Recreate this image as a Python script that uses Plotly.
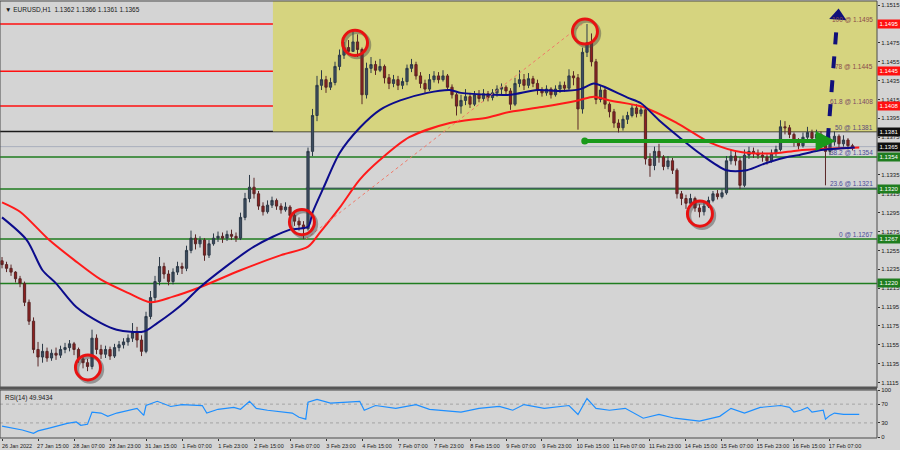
import plotly.graph_objects as go

# ---------------- data ----------------
title_text = "▼ EURUSD,H1  1.1362 1.1366 1.1361 1.1365"
rsi_text = "RSI(14) 49.9434"

# 2-hour candles, bar position in hours from 26 Jan 23:00
bar_hours = list(range(0, 380, 2))
first_open = 1.1244
close = [
    1.1240, 1.1236, 1.1232, 1.1225, 1.1220, 1.1200, 1.1180, 1.1150, 1.1142, 1.1148,
    1.1141, 1.1146, 1.1144, 1.1150, 1.1152, 1.1156, 1.1150, 1.1140, 1.1136, 1.1132,
    1.1162, 1.1150, 1.1145, 1.1150, 1.1143, 1.1152, 1.1155, 1.1158, 1.1162, 1.1168,
    1.1160, 1.1148, 1.1185, 1.1205, 1.1222, 1.1238, 1.1230, 1.1222, 1.1232, 1.1238,
    1.1236, 1.1255, 1.1268, 1.1262, 1.1266, 1.1250, 1.1262, 1.1268, 1.1270, 1.1268,
    1.1272, 1.1270, 1.1268, 1.1290, 1.1310, 1.1322, 1.1315, 1.1302, 1.1296, 1.1303,
    1.1308, 1.1302, 1.1298, 1.1301, 1.1292, 1.1286, 1.1282, 1.1278, 1.1360, 1.1398,
    1.1430, 1.1436, 1.1428, 1.1433, 1.1450, 1.1462, 1.1470, 1.1466, 1.1476, 1.1468,
    1.1420, 1.1448, 1.1452, 1.1446, 1.1450, 1.1438, 1.1432, 1.1436, 1.1430, 1.1434,
    1.1448, 1.1452, 1.1440, 1.1432, 1.1426, 1.1436, 1.1440, 1.1436, 1.1440, 1.1428,
    1.1420, 1.1408, 1.1414, 1.1418, 1.1410, 1.1420, 1.1416, 1.1421, 1.1417, 1.1422,
    1.1426, 1.1428, 1.1424, 1.1410, 1.1432, 1.1436, 1.1430, 1.1437, 1.1432, 1.1425,
    1.1422, 1.1426, 1.1420, 1.1426, 1.1430, 1.1427, 1.1440, 1.1438, 1.1405, 1.1465,
    1.1475, 1.1455, 1.1415, 1.1425, 1.1410, 1.1402, 1.1390, 1.1385, 1.1394, 1.1398,
    1.1406, 1.1400, 1.1404, 1.1352, 1.1345, 1.1360, 1.1354, 1.1344, 1.1350, 1.1340,
    1.1315, 1.1310, 1.1305, 1.1310, 1.1300, 1.1296, 1.1302, 1.1308, 1.1315, 1.1312,
    1.1316, 1.1350, 1.1355, 1.1350, 1.1324, 1.1356, 1.1360, 1.1358, 1.1356, 1.1354,
    1.1350, 1.1358, 1.1362, 1.1386, 1.1385, 1.1378, 1.1370, 1.1366, 1.1375, 1.1380,
    1.1374, 1.1378, 1.1372, 1.1360, 1.1370, 1.1376, 1.1368, 1.1372, 1.1366, 1.1365,
]
high = [
    1.1248, 1.1243, 1.1240, 1.1233, 1.1228, 1.1222, 1.1203, 1.1184, 1.1158, 1.1156,
    1.1152, 1.1150, 1.1152, 1.1154, 1.1157, 1.1160, 1.1158, 1.1152, 1.1144, 1.1140,
    1.1171, 1.1166, 1.1155, 1.1154, 1.1153, 1.1156, 1.1159, 1.1162, 1.1166, 1.1178,
    1.1174, 1.1165, 1.1190, 1.1212, 1.1228, 1.1248, 1.1242, 1.1234, 1.1236, 1.1243,
    1.1242, 1.1260, 1.1276, 1.1272, 1.1270, 1.1268, 1.1266, 1.1273, 1.1275, 1.1274,
    1.1276, 1.1277, 1.1274, 1.1295, 1.1316, 1.1335, 1.1332, 1.1318, 1.1306, 1.1308,
    1.1312, 1.1310, 1.1305, 1.1306, 1.1303, 1.1295, 1.1290, 1.1286, 1.1364, 1.1405,
    1.1440, 1.1446, 1.1440, 1.1438, 1.1455, 1.1468, 1.1476, 1.1478, 1.1487, 1.1484,
    1.1470, 1.1454, 1.1460, 1.1456, 1.1458, 1.1452, 1.1442, 1.1441, 1.1440, 1.1438,
    1.1452, 1.1458, 1.1455, 1.1444, 1.1436, 1.1442, 1.1445, 1.1444, 1.1446, 1.1442,
    1.1431, 1.1422, 1.1420, 1.1426, 1.1422, 1.1424, 1.1425, 1.1426, 1.1424, 1.1426,
    1.1430, 1.1432, 1.1430, 1.1427, 1.1438, 1.1446, 1.1442, 1.1443, 1.1440, 1.1436,
    1.1428, 1.1430, 1.1428, 1.1430, 1.1434, 1.1434, 1.1447, 1.1445, 1.1442, 1.1470,
    1.1495, 1.1485, 1.1458, 1.1430, 1.1428, 1.1412, 1.1405, 1.1394, 1.1398, 1.1402,
    1.1410, 1.1410, 1.1408, 1.1406, 1.1358, 1.1365, 1.1368, 1.1356, 1.1355, 1.1353,
    1.1342, 1.1318, 1.1314, 1.1315, 1.1312, 1.1304, 1.1306, 1.1312, 1.1318, 1.1319,
    1.1320, 1.1355, 1.1362, 1.1360, 1.1354, 1.1362, 1.1365, 1.1364, 1.1362, 1.1360,
    1.1357, 1.1362, 1.1366, 1.1393, 1.1392, 1.1388, 1.1380, 1.1374, 1.1380, 1.1386,
    1.1383, 1.1383, 1.1381, 1.1376, 1.1376, 1.1381, 1.1378, 1.1377, 1.1374, 1.1368,
]
low = [
    1.1236, 1.1232, 1.1228, 1.1221, 1.1216, 1.1196, 1.1176, 1.1146, 1.1132, 1.1136,
    1.1137, 1.1138, 1.1139, 1.1141, 1.1146, 1.1148, 1.1144, 1.1136, 1.1130, 1.1127,
    1.1129, 1.1145, 1.1140, 1.1141, 1.1139, 1.1141, 1.1148, 1.1151, 1.1154, 1.1158,
    1.1152, 1.1143, 1.1146, 1.1182, 1.1200, 1.1218, 1.1225, 1.1218, 1.1219, 1.1229,
    1.1230, 1.1233, 1.1252, 1.1256, 1.1258, 1.1244, 1.1247, 1.1260, 1.1264, 1.1263,
    1.1265, 1.1266, 1.1264, 1.1266, 1.1287, 1.1306, 1.1310, 1.1298, 1.1292, 1.1294,
    1.1300, 1.1298, 1.1294, 1.1296, 1.1288, 1.1281, 1.1276, 1.1267, 1.1276, 1.1355,
    1.1392, 1.1425, 1.1422, 1.1425, 1.1430, 1.1446, 1.1458, 1.1462, 1.1468, 1.1460,
    1.1410, 1.1416, 1.1443, 1.1441, 1.1444, 1.1432, 1.1426, 1.1428, 1.1425, 1.1426,
    1.1430, 1.1444, 1.1436, 1.1427, 1.1422, 1.1424, 1.1433, 1.1432, 1.1434, 1.1424,
    1.1416, 1.1398, 1.1400, 1.1409, 1.1406, 1.1408, 1.1412, 1.1413, 1.1413, 1.1414,
    1.1418, 1.1420, 1.1420, 1.1404, 1.1408, 1.1428, 1.1425, 1.1427, 1.1428, 1.1420,
    1.1418, 1.1419, 1.1416, 1.1418, 1.1422, 1.1423, 1.1425, 1.1430, 1.1383, 1.1400,
    1.1460, 1.1450, 1.1410, 1.1412, 1.1405, 1.1396, 1.1385, 1.1380, 1.1382, 1.1389,
    1.1396, 1.1396, 1.1397, 1.1346, 1.1333, 1.1340, 1.1348, 1.1340, 1.1341, 1.1336,
    1.1310, 1.1303, 1.1299, 1.1302, 1.1296, 1.1290, 1.1292, 1.1300, 1.1306, 1.1309,
    1.1310, 1.1314, 1.1346, 1.1345, 1.1320, 1.1322, 1.1352, 1.1353, 1.1352, 1.1349,
    1.1346, 1.1348, 1.1355, 1.1360, 1.1378, 1.1374, 1.1365, 1.1362, 1.1364, 1.1372,
    1.1370, 1.1371, 1.1368, 1.1324, 1.1356, 1.1366, 1.1364, 1.1365, 1.1362, 1.1361,
]

# moving averages
ma_fast_hours = [0, 11, 18, 24, 33, 44, 51, 63, 69, 76, 82, 88, 112, 128, 136, 138, 143, 150, 159, 168,
                 177, 189, 199, 204, 218, 226, 238, 248, 257, 263, 267, 278, 284, 292, 301, 310, 322, 331,
                 340, 349, 354, 363, 379]
ma_fast = [1.1290, 1.1266, 1.1234, 1.1220, 1.1195, 1.1178, 1.1171, 1.1169, 1.1178, 1.1190,
           1.1202, 1.1216, 1.1259, 1.1277, 1.1280, 1.1295, 1.1322, 1.1358, 1.1385, 1.1404,
           1.1414, 1.1422, 1.1425, 1.1422, 1.1420, 1.1420, 1.1425, 1.1424, 1.1426, 1.1432,
           1.1429, 1.1417, 1.1411, 1.1393, 1.1375, 1.1358, 1.1340, 1.1340, 1.1348, 1.1354,
           1.1356, 1.1361, 1.1364]
ma_slow_hours = [0, 8, 21, 32, 44, 56, 66, 76, 88, 106, 124, 136, 141, 150, 159, 168, 181, 199, 216, 226,
                 240, 256, 263, 270, 285, 300, 315, 329, 344, 354, 381]
ma_slow = [1.1306, 1.1296, 1.1266, 1.1245, 1.1224, 1.1210, 1.1200, 1.1206, 1.1216, 1.1234,
           1.1250, 1.1259, 1.1273, 1.1300, 1.1330, 1.1351, 1.1375, 1.1390, 1.1396, 1.1402,
           1.1407, 1.1414, 1.1418, 1.1414, 1.1407, 1.1390, 1.1369, 1.1359, 1.1358, 1.1361,
           1.1364]

# RSI(14)
rsi_hours = [0, 5, 9, 14, 16, 21, 29, 33, 35, 38, 40, 44, 47, 51, 58, 60, 63, 64, 69, 70,
             75, 80, 85, 89, 91, 96, 103, 106, 110, 113, 118, 125, 129, 132, 135, 136, 140, 146, 152, 159,
             161, 166, 175, 184, 190, 204, 212, 221, 227, 232, 241, 252, 256, 260, 264, 270, 277, 285, 292, 299,
             310, 319, 324, 330, 337, 346, 350, 352, 355, 358, 360, 365, 366, 368, 370, 374, 381]
rsi_values = [23, 19, 15, 8, 13, 19, 29, 32, 25, 27, 53, 51, 44, 51, 59, 61, 46, 67, 76, 74,
              65, 69, 67, 67, 51, 59, 63, 59, 76, 61, 57, 53, 51, 42, 38, 74, 80, 72, 74, 76,
              57, 67, 61, 69, 59, 53, 61, 65, 57, 69, 61, 67, 48, 82, 61, 57, 61, 40, 48, 40,
              34, 44, 61, 51, 63, 67, 63, 53, 57, 63, 53, 57, 38, 46, 51, 48, 48]

time_tick_hours = [0, 16, 32, 48, 64, 80, 96, 112, 128, 144, 160, 176, 192, 208, 224, 240,
                   256, 272, 288, 304, 320, 336, 352, 368]
time_tick_labels = ["26 Jan 2022", "27 Jan 15:00", "28 Jan 07:00", "28 Jan 23:00", "31 Jan 15:00",
                    "1 Feb 07:00", "1 Feb 23:00", "2 Feb 15:00", "3 Feb 07:00", "3 Feb 23:00",
                    "4 Feb 15:00", "7 Feb 07:00", "7 Feb 23:00", "8 Feb 15:00", "9 Feb 07:00",
                    "9 Feb 23:00", "10 Feb 15:00", "11 Feb 07:00", "11 Feb 23:00", "14 Feb 15:00",
                    "15 Feb 07:00", "15 Feb 23:00", "16 Feb 15:00", "17 Feb 07:00"]
price_ticks = [1.1115, 1.1135, 1.1155, 1.1175, 1.1195, 1.1215, 1.1235, 1.1255, 1.1275, 1.1295,
               1.1315, 1.1335, 1.1355, 1.1375, 1.1395, 1.1415, 1.1435, 1.1455, 1.1475, 1.1495, 1.1515]
price_tick_labels = ["1.1115", "1.1135", "1.1155", "1.1175", "1.1195", "1.1215", "1.1235", "1.1255",
                     "1.1275", "1.1295", "1.1315", "1.1335", "1.1355", "1.1375", "1.1395", "1.1415",
                     "1.1435", "1.1455", "1.1475", "1.1495", "1.1515"]
rsi_ticks = [0, 30, 70, 100]

red_levels = [1.1495, 1.1445, 1.1408]
black_level = 1.1381
current_price = 1.1365
green_levels = [1.1354, 1.1320, 1.1267, 1.1220]
fib_values = [1.1495, 1.1445, 1.1408, 1.1381, 1.1354, 1.1321, 1.1267]
fib_texts = ["100 @ 1.1495", "78 @ 1.1445", "61.8 @ 1.1408", "50 @ 1.1381",
             "38.2 @ 1.1354", "23.6 @ 1.1321", "0 @ 1.1267"]
tag_values = [1.1495, 1.1445, 1.1408, 1.1381, 1.1365, 1.1354, 1.1320, 1.1267, 1.1220]
tag_texts = ["1.1495", "1.1445", "1.1408", "1.1381", "1.1365", "1.1354", "1.1320", "1.1267", "1.1220"]
tag_kinds = ["red", "red", "red", "black", "black", "green", "green", "green", "green"]

zone_start_hour = 120.4          # yellow zone
fib_low = (135, 1.1267)
fib_high = (258, 1.1495)
circle_hours = [38.2, 133.3, 156.9, 259.1, 310.2]
circle_prices = [1.1131, 1.1285, 1.1475, 1.1487, 1.1294]
green_arrow = dict(h0=259, h1=370.5, price=1.1371)
blue_arrow = dict(h0=367, p0=1.1372, h1=371.0, p1=1.1494, head_h=371.6, head_p=1.15035)

# ---------------- styling ----------------
BG = "#d4d4d4"
YELLOW = "#d6d47f"
RED = "#ff1010"
GREEN = "#1f7d1f"
FONT = "Liberation Sans, Arial, sans-serif"
PX_PER_HOUR = 2.25
PX_PER_PRICE = 9417.0
Y_MAIN = [1.110916, 1.151938]
X_RANGE = [-0.9, 388.9]

open_ = [first_open] + close[:-1]

fig = go.Figure()
fig.add_trace(go.Candlestick(
    x=bar_hours, open=open_, high=high, low=low, close=close,
    increasing=dict(line=dict(color="#2d3a48", width=1), fillcolor="#3d4d60"),
    decreasing=dict(line=dict(color="#5a2626", width=1), fillcolor="#8e1f1f"),
    whiskerwidth=0, xaxis="x", yaxis="y", hoverinfo="skip", showlegend=False))
fig.add_trace(go.Scatter(x=ma_slow_hours, y=ma_slow, mode="lines",
                         line=dict(color="#ff1a1a", width=2, shape="spline", smoothing=0.8),
                         xaxis="x", yaxis="y", hoverinfo="skip"))
fig.add_trace(go.Scatter(x=ma_fast_hours, y=ma_fast, mode="lines",
                         line=dict(color="#0c0c8c", width=2, shape="spline", smoothing=0.8),
                         xaxis="x", yaxis="y", hoverinfo="skip"))
fig.add_trace(go.Scatter(x=rsi_hours, y=rsi_values, mode="lines",
                         line=dict(color="#1e8fff", width=1.2),
                         xaxis="x2", yaxis="y2", hoverinfo="skip"))
# green arrow start dot, blue arrow head
fig.add_trace(go.Scatter(x=[green_arrow["h0"]], y=[green_arrow["price"]], mode="markers",
                         marker=dict(color="#1a9a1a", size=7), xaxis="x", yaxis="y", hoverinfo="skip"))
fig.add_trace(go.Scatter(x=[blue_arrow["head_h"]], y=[blue_arrow["head_p"]], mode="markers",
                         marker=dict(color="#10107a", size=15, symbol="triangle-up", angle=4),
                         xaxis="x", yaxis="y", hoverinfo="skip"))

shapes = []
shapes.append(dict(type="rect", xref="x", yref="y", x0=zone_start_hour, x1=X_RANGE[1],
                   y0=black_level, y1=Y_MAIN[1], fillcolor=YELLOW, line=dict(width=0), layer="below"))
for v in red_levels:
    shapes.append(dict(type="line", xref="paper", yref="y", x0=0, x1=1, y0=v, y1=v,
                       line=dict(color=RED, width=1.5), layer="below"))
shapes.append(dict(type="line", xref="paper", yref="y", x0=0, x1=1, y0=black_level, y1=black_level,
                   line=dict(color="#1a1a1a", width=1.5), layer="below"))
shapes.append(dict(type="line", xref="paper", yref="y", x0=0, x1=1, y0=current_price, y1=current_price,
                   line=dict(color="#a8aebc", width=1), layer="below"))
for v in green_levels:
    shapes.append(dict(type="line", xref="paper", yref="y", x0=0, x1=1, y0=v, y1=v,
                       line=dict(color=GREEN, width=1.5), layer="below"))
shapes.append(dict(type="line", xref="x", yref="y", x0=fib_low[0], x1=X_RANGE[1], y0=fib_values[5], y1=fib_values[5],
                   line=dict(color="#2f4a55", width=1), layer="below"))
shapes.append(dict(type="line", xref="x", yref="y", x0=fib_low[0], y0=fib_low[1], x1=fib_high[0], y1=fib_high[1],
                   line=dict(color="#f07a6a", width=1, dash="dot")))
# RSI levels
for v in (30, 70):
    shapes.append(dict(type="line", xref="paper", yref="y2", x0=0, x1=1, y0=v, y1=v,
                       line=dict(color="#a4a4a4", width=1, dash="dot"), layer="below"))
# circles with shadow
r_px = 12.5
for h, p in zip(circle_hours, circle_prices):
    dx = r_px / PX_PER_HOUR
    dy = r_px / PX_PER_PRICE
    sx = 2 / PX_PER_HOUR
    sy = 2 / PX_PER_PRICE
    shapes.append(dict(type="circle", xref="x", yref="y", x0=h - dx + sx, x1=h + dx + sx,
                       y0=p - dy - sy, y1=p + dy - sy, line=dict(color="rgba(70,70,70,0.45)", width=3.5)))
    shapes.append(dict(type="circle", xref="x", yref="y", x0=h - dx, x1=h + dx,
                       y0=p - dy, y1=p + dy, line=dict(color="#e81212", width=3)))
# blue dashed arrow body
shapes.append(dict(type="line", xref="x", yref="y", x0=blue_arrow["h0"], y0=blue_arrow["p0"],
                   x1=blue_arrow["h1"], y1=blue_arrow["p1"], line=dict(color="#10107a", width=4, dash="dash")))
# frames
shapes.append(dict(type="rect", xref="paper", yref="y domain", x0=0, x1=1, y0=0, y1=1,
                   line=dict(color="#4a4a4a", width=1)))
shapes.append(dict(type="line", xref="paper", yref="y domain", x0=0, x1=1, y0=0, y1=0,
                   line=dict(color="#555555", width=3)))
shapes.append(dict(type="rect", xref="paper", yref="y2 domain", x0=0, x1=1, y0=0, y1=1,
                   line=dict(color="#4a4a4a", width=1)))

annotations = []
annotations.append(dict(text=title_text, xref="paper", yref="paper", x=0, y=1, xanchor="left", yanchor="top",
                        xshift=3, yshift=-3, showarrow=False, font=dict(family=FONT, size=6.5, color="#1a1a1a")))
annotations.append(dict(text=rsi_text, xref="paper", yref="y2 domain", x=0, y=1, xanchor="left", yanchor="top",
                        xshift=3, yshift=-2, showarrow=False, font=dict(family=FONT, size=6.5, color="#1a1a1a")))
fib_colors = ["#8a4a4a", "#8a4a4a", "#7a4a66", "#5a4a7a", "#4c4c9a", "#4c4c9a", "#4c4c9a"]
for v, t, c in zip(fib_values, fib_texts, fib_colors):
    annotations.append(dict(text=t, xref="paper", yref="y", x=1, y=v, xanchor="right", yanchor="bottom",
                            xshift=-2, yshift=-1, showarrow=False, font=dict(family=FONT, size=6.5, color=c)))
tag_bg = {"red": "#ff1010", "black": "#101010", "green": "#1f7d1f"}
for v, t, k in zip(tag_values, tag_texts, tag_kinds):
    annotations.append(dict(text=t, xref="paper", yref="y", x=1, y=v, xanchor="left", yanchor="middle",
                            xshift=0, showarrow=False, bgcolor=tag_bg[k], borderpad=0, width=22, height=8,
                            font=dict(family=FONT, size=6, color="white")))
annotations.append(dict(text="", xref="x", yref="y", axref="x", ayref="y",
                        x=green_arrow["h1"], y=green_arrow["price"], ax=green_arrow["h0"], ay=green_arrow["price"],
                        showarrow=True, arrowhead=2, arrowsize=1, arrowwidth=4, arrowcolor="#1a9a1a"))

axis_font = dict(family=FONT, size=6, color="#1a1a1a")
fig.update_layout(
    width=900, height=450,
    margin=dict(l=0, r=23, t=1, b=12),
    paper_bgcolor=BG, plot_bgcolor=BG, showlegend=False,
    xaxis=dict(domain=[0, 1], range=X_RANGE, anchor="y", showticklabels=False, ticks="",
               showgrid=False, zeroline=False, rangeslider=dict(visible=False), automargin=False),
    yaxis=dict(domain=[0.1144, 1], range=Y_MAIN, side="right", tickvals=price_ticks, ticktext=price_tick_labels,
               ticks="outside", ticklen=2, tickcolor="#333", showgrid=False, zeroline=False,
               tickfont=axis_font, automargin=False, anchor="x"),
    xaxis2=dict(domain=[0, 1], range=X_RANGE, matches="x", anchor="y2", tickvals=time_tick_hours,
                ticktext=time_tick_labels, ticks="outside", ticklen=2, tickcolor="#333", tickangle=0,
                ticklabelshift=15, tickfont=dict(family=FONT, size=5.5, color="#1a1a1a"),
                showgrid=False, zeroline=False, automargin=False),
    yaxis2=dict(domain=[0, 0.1098], range=[-2.1, 100], side="right", tickvals=rsi_ticks,
                ticks="outside", ticklen=2, tickcolor="#333", showgrid=False, zeroline=False,
                tickfont=axis_font, automargin=False, anchor="x2"),
    shapes=shapes, annotations=annotations,
)
fig.write_html("out.html", config={"displayModeBar": False},
               post_script="document.body.style.margin='0';document.body.style.overflow='hidden';")
